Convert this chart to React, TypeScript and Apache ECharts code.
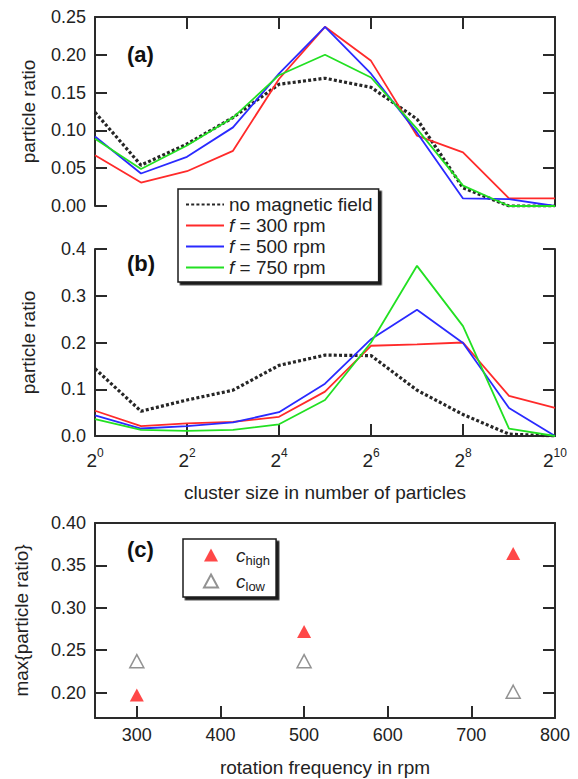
import React, { useEffect, useRef, useState } from 'react';
import * as echarts from 'echarts';

// cluster size exponents (cluster size = 2^exponent)
const exponents = [0, 1, 2, 3, 4, 5, 6, 7, 8, 9, 10];

// panel (a)
const aNoField = [0.124, 0.054, 0.082, 0.117, 0.161, 0.169, 0.157, 0.115, 0.024, 0.0, 0.0];
const aF300 = [0.067, 0.031, 0.046, 0.073, 0.168, 0.237, 0.192, 0.093, 0.071, 0.01, 0.01];
const aF500 = [0.092, 0.043, 0.065, 0.104, 0.175, 0.237, 0.175, 0.097, 0.01, 0.009, 0.0];
const aF750 = [0.089, 0.049, 0.08, 0.117, 0.173, 0.2, 0.17, 0.102, 0.027, 0.0, 0.0];

// panel (b)
const bNoField = [0.144, 0.053, 0.077, 0.098, 0.151, 0.173, 0.172, 0.098, 0.046, 0.004, 0.0];
const bF300 = [0.054, 0.021, 0.027, 0.03, 0.041, 0.095, 0.193, 0.196, 0.2, 0.086, 0.06];
const bF500 = [0.044, 0.016, 0.021, 0.029, 0.051, 0.112, 0.207, 0.27, 0.199, 0.06, 0.0];
const bF750 = [0.036, 0.013, 0.011, 0.013, 0.025, 0.077, 0.2, 0.364, 0.235, 0.016, 0.0];

// panel (c)
const rpm = [300, 500, 750];
const cHigh = [0.197, 0.272, 0.364];
const cLow = [0.237, 0.237, 0.201];

const seriesNames = ['no magnetic field', 'f = 300 rpm', 'f = 500 rpm', 'f = 750 rpm'];
const cNames = ['c_high', 'c_low'];

// tick labels
const yTicksC = [0.2, 0.25, 0.3, 0.35, 0.4];
const xTicksRpm = [300, 400, 500, 600, 700, 800];

const FONT = 'Liberation Sans, Arial, Helvetica, sans-serif';
const AX = '#2a2a2a';
const TXT = '#222';
const colors = ['#262626', '#ff2a2a', '#2a2aff', '#22e022'];

const pairs = (ys: number[]) => exponents.map((e, i) => [e, ys[i]]);

export default function App() {
  const ref = useRef<HTMLDivElement>(null);
  const [err, setErr] = useState('');

  useEffect(() => {
    document.body.style.margin = '0';
    if (!ref.current) return;
    const chart = echarts.init(ref.current, undefined, { renderer: 'svg' });

    const grids = [
      { left: 95, top: 17, width: 460, height: 189 },
      { left: 95, top: 249, width: 460, height: 187 },
      { left: 95, top: 523, width: 460, height: 195 },
    ];

    const line = () => ({ show: true, onZero: false, lineStyle: { color: AX, width: 2 } });
    const ticks = () => ({ show: true, inside: true, length: 12, lineStyle: { color: AX, width: 2 } });
    const noTicks = () => ({ show: false });
    const noLabels = () => ({ show: false });
    const noSplit = () => ({ show: false });
    const tickLabel = () => ({ fontSize: 18, color: TXT, fontFamily: FONT, margin: 9 });
    const nameStyle = { fontSize: 19, color: TXT, fontFamily: FONT };

    const xAxis: any[] = [
      // 0: grid a bottom (data, hidden)
      {
        type: 'value', gridIndex: 0, position: 'bottom', min: 0, max: 10,
        axisLine: { show: false, onZero: false }, axisTick: noTicks(), axisLabel: noLabels(), splitLine: noSplit(),
      },
      // 1: grid a top frame with ticks
      {
        type: 'value', gridIndex: 0, position: 'top', min: 0, max: 10, interval: 2,
        axisLine: line(), axisTick: ticks(), axisLabel: noLabels(), splitLine: noSplit(),
      },
      // 2: grid b bottom
      {
        type: 'value', gridIndex: 1, position: 'bottom', min: 0, max: 10, interval: 2,
        axisLine: line(), axisTick: ticks(), splitLine: noSplit(),
        axisLabel: {
          margin: 11,
          formatter: (v: number) => `{b|2}{s|${v}}`,
          rich: {
            b: { fontSize: 19, color: TXT, fontFamily: FONT },
            s: { fontSize: 12, color: TXT, fontFamily: FONT, padding: [0, 0, 14, 0] },
          },
        },
        name: 'cluster size in number of particles', nameLocation: 'middle', nameGap: 47, nameTextStyle: nameStyle,
      },
      // 3: grid c bottom
      {
        type: 'value', gridIndex: 2, position: 'bottom', min: 250, max: 800,
        axisLine: line(), axisTick: ticks(), splitLine: noSplit(),
        axisLabel: { ...tickLabel(), customValues: xTicksRpm, margin: 8 },
        name: 'rotation frequency in rpm', nameLocation: 'middle', nameGap: 40, nameTextStyle: nameStyle,
      },
      // 4: grid c top frame
      {
        type: 'value', gridIndex: 2, position: 'top', min: 250, max: 800,
        axisLine: line(), axisTick: noTicks(), axisLabel: noLabels(), splitLine: noSplit(),
      },
    ];

    const yPair = (gridIndex: number, min: number, max: number, interval: number | null, vals: number[] | null, digits: number, name: string, nameGap: number) => [
      {
        type: 'value', gridIndex, position: 'left', min, max, ...(interval ? { interval } : {}),
        axisLine: line(), axisTick: ticks(), splitLine: noSplit(),
        axisLabel: { ...tickLabel(), ...(vals ? { customValues: vals } : {}), formatter: (v: number) => v.toFixed(digits) },
        name, nameLocation: 'middle', nameGap, nameTextStyle: nameStyle,
      },
      {
        type: 'value', gridIndex, position: 'right', min, max, ...(interval ? { interval } : {}),
        axisLine: line(), axisTick: ticks(), axisLabel: noLabels(), splitLine: noSplit(),
      },
    ];

    const yAxis: any[] = [
      ...yPair(0, 0, 0.25, 0.05, null, 2, 'particle ratio', 57),
      ...yPair(1, 0, 0.4, 0.1, null, 1, 'particle ratio', 57),
      ...yPair(2, 0.17, 0.4, null, yTicksC, 2, 'max{particle ratio}', 64),
    ];

    const lineSeries = (name: string, data: number[], color: string, xi: number, yi: number, dotted: boolean) => ({
      type: 'line', name, xAxisIndex: xi, yAxisIndex: yi,
      data: pairs(data), symbol: 'none', silent: true,
      lineStyle: dotted ? { color, width: 3.2, type: [3, 2.2] } : { color, width: 1.8 },
      itemStyle: { color },
      z: dotted ? 2 : 3,
    });

    const aData = [aNoField, aF300, aF500, aF750];
    const bData = [bNoField, bF300, bF500, bF750];

    const series: any[] = [
      ...aData.map((d, i) => lineSeries(seriesNames[i], d, colors[i], 0, 0, i === 0)),
      ...bData.map((d, i) => lineSeries(seriesNames[i], d, colors[i], 2, 2, i === 0)),
      {
        type: 'scatter', name: cNames[0], xAxisIndex: 3, yAxisIndex: 4,
        data: rpm.map((r, i) => [r, cHigh[i]]), symbol: 'triangle', symbolSize: [14, 13],
        itemStyle: { color: '#ff1a1a' },
      },
      {
        type: 'scatter', name: cNames[1], xAxisIndex: 3, yAxisIndex: 4,
        data: rpm.map((r, i) => [r, cLow[i]]), symbol: 'triangle', symbolSize: [14, 13],
        itemStyle: { color: '#ffffff', borderColor: '#777', borderWidth: 1.5 },
      },
    ];

    const legendBox = {
      backgroundColor: '#fff', borderColor: '#1a1a1a', borderWidth: 1.5, borderRadius: 0,
      shadowColor: '#1a1a1a', shadowBlur: 0, shadowOffsetX: 2.5, shadowOffsetY: 2.5,
    };
    const panelTitle = (text: string, top: number) => ({
      text, left: 127, top, padding: 0,
      textStyle: { fontSize: 22, fontWeight: 'bold', fontFamily: FONT, color: '#111' },
    });

    const option: any = {
      animation: false,
      title: [panelTitle('(a)', 43), panelTitle('(b)', 252), panelTitle('(c)', 538)],
      grid: grids,
      xAxis,
      yAxis,
      series,
      legend: [
        {
          ...legendBox,
          orient: 'vertical', left: 178, top: 189,
          padding: [5, 6, 4, 7],
          itemWidth: 38, itemHeight: 14, itemGap: 0,
          data: seriesNames,
          selectedMode: false,
          itemStyle: { opacity: 0, borderWidth: 0 },
          formatter: (n: string) => (n.startsWith('f =') ? `{i|f}{n|${n.slice(1)}}` : `{n|${n}}`),
          textStyle: {
            fontSize: 19, lineHeight: 21, color: TXT, fontFamily: FONT,
            rich: {
              i: { fontSize: 19, fontStyle: 'italic', color: TXT, fontFamily: FONT, lineHeight: 21 },
              n: { fontSize: 19, color: TXT, fontFamily: FONT, lineHeight: 21 },
            },
          },
        },
        {
          ...legendBox,
          orient: 'vertical', left: 183, top: 539,
          padding: [4, 6, 4, 20],
          itemWidth: 14, itemHeight: 13, itemGap: 2,
          data: cNames,
          selectedMode: false,
          formatter: (n: string) => `{g| }{c|c}{s|${n === 'c_high' ? 'high' : 'low'}}`,
          textStyle: {
            fontSize: 19, lineHeight: 24, color: TXT, fontFamily: FONT,
            rich: {
              g: { width: 13, fontSize: 10 },
              c: { fontSize: 19, fontStyle: 'italic', color: TXT, fontFamily: FONT },
              s: { fontSize: 13, color: TXT, fontFamily: FONT, padding: [10, 0, 0, 0] },
            },
          },
        },
      ],
    };

    try {
      chart.setOption(option);
    } catch (e: any) {
      setErr(String(e && e.message ? e.message : e));
    }
    return () => chart.dispose();
  }, []);

  return (
    <div style={{ position: 'relative', width: 578, height: 779, background: '#fff' }}>
      <div ref={ref} style={{ width: 578, height: 779 }} />
      {err ? (
        <div style={{ position: 'absolute', right: 2, top: 2, fontSize: 9, color: '#999', maxWidth: 300 }}>{err}</div>
      ) : null}
    </div>
  );
}
